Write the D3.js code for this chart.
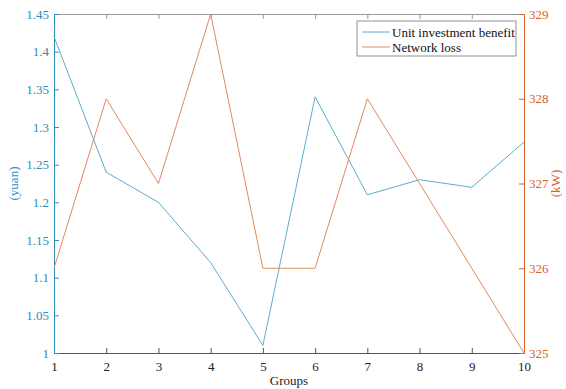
<head>
<meta charset="utf-8">
<style>
body { margin: 0; background: #fff; }
svg text { font-family: "Liberation Serif", "Times New Roman", Times, "DejaVu Serif", serif; font-size: 13px; }
</style>
<script src="https://cdn.jsdelivr.net/npm/d3@7/dist/d3.min.js"></script>
</head>
<body>
<div id="chart"></div>
<script>

var groups = [1, 2, 3, 4, 5, 6, 7, 8, 9, 10];
var benefit = [1.42, 1.24, 1.20, 1.12, 1.01, 1.34, 1.21, 1.23, 1.22, 1.28];
var loss = [326, 328, 327, 329, 326, 326, 328, 327, 326, 325];
var leftTicks = [1, 1.05, 1.1, 1.15, 1.2, 1.25, 1.3, 1.35, 1.4, 1.45];
var rightTicks = [325, 326, 327, 328, 329];

var margin = {top: 14, right: 42, bottom: 36, left: 54},
    width = 566 - margin.left - margin.right,
    height = 389 - margin.top - margin.bottom;

var blueAxis = "#2f8cbd", blueLine = "#5aaccd",
    orangeAxis = "#d6622c", orangeLine = "#e2895f";

var x = d3.scaleLinear().domain([1, 10]).range([0, width]);
var yL = d3.scaleLinear().domain([1, 1.45]).range([height, 0]);
var yR = d3.scaleLinear().domain([325, 329]).range([height, 0]);

var svg = d3.select("#chart").append("svg")
    .attr("width", 566)
    .attr("height", 389)
  .append("g")
    .attr("transform", "translate(" + margin.left + "," + margin.top + ")");

// top box line with ticks
svg.append("g")
    .call(d3.axisTop(x).tickValues(groups).tickSize(-5).tickFormat(""))
    .call(function(g) { g.selectAll("path, line").attr("stroke", "#999"); });

// bottom axis
var xa = svg.append("g")
    .attr("transform", "translate(0," + height + ")")
    .call(d3.axisBottom(x).tickValues(groups).tickSize(-5).tickSizeOuter(0).tickPadding(9).tickFormat(d3.format("d")));
xa.attr("font-family", null).attr("font-size", null);
xa.selectAll("path, line").attr("stroke", "#555");
xa.selectAll("text").attr("fill", "#222");

// left axis
var la = svg.append("g")
    .call(d3.axisLeft(yL).tickValues(leftTicks).tickSize(-5).tickSizeOuter(0).tickPadding(5).tickFormat(function(d) { return String(+d.toFixed(2)); }));
la.attr("font-family", null).attr("font-size", null);
la.selectAll("path, line").attr("stroke", blueAxis);
la.selectAll("text").attr("fill", blueAxis);

// right axis
var ra = svg.append("g")
    .attr("transform", "translate(" + width + ",0)")
    .call(d3.axisRight(yR).tickValues(rightTicks).tickSize(-5).tickSizeOuter(0).tickPadding(5).tickFormat(d3.format("d")));
ra.attr("font-family", null).attr("font-size", null);
ra.selectAll("path, line").attr("stroke", orangeAxis);
ra.selectAll("text").attr("fill", orangeAxis);

// lines
svg.append("path")
    .datum(groups)
    .attr("fill", "none")
    .attr("stroke", blueLine)
    .attr("stroke-width", 1)
    .attr("d", d3.line().x(function(d) { return x(d); }).y(function(d, i) { return yL(benefit[i]); }));

svg.append("path")
    .datum(groups)
    .attr("fill", "none")
    .attr("stroke", orangeLine)
    .attr("stroke-width", 1)
    .attr("d", d3.line().x(function(d) { return x(d); }).y(function(d, i) { return yR(loss[i]); }));

// labels
svg.append("text")
    .attr("x", width / 2)
    .attr("y", height + 32)
    .attr("text-anchor", "middle")
    .attr("fill", "#222")
    .text("Groups");

svg.append("text")
    .attr("transform", "translate(-36," + (height / 2) + ") rotate(-90)")
    .attr("text-anchor", "middle")
    .attr("fill", blueAxis)
    .text("(yuan)");

svg.append("text")
    .attr("transform", "translate(" + (width + 36) + "," + (height / 2) + ") rotate(-90)")
    .attr("text-anchor", "middle")
    .attr("fill", orangeAxis)
    .text("(kW)");

// legend
var legend = svg.append("g").attr("transform", "translate(303,7)");
legend.append("rect")
    .attr("width", 159).attr("height", 35)
    .attr("fill", "#fff").attr("stroke", "#777").attr("stroke-width", 0.8);
var items = [["Unit investment benefit", blueLine], ["Network loss", orangeLine]];
items.forEach(function(it, i) {
  var yy = 11 + i * 15;
  legend.append("line").attr("x1", 5).attr("x2", 33).attr("y1", yy).attr("y2", yy)
      .attr("stroke", it[1]).attr("stroke-width", 1);
  legend.append("text").attr("x", 35).attr("y", yy + 4.5).attr("fill", "#111").text(it[0]);
});

</script>
</body>
